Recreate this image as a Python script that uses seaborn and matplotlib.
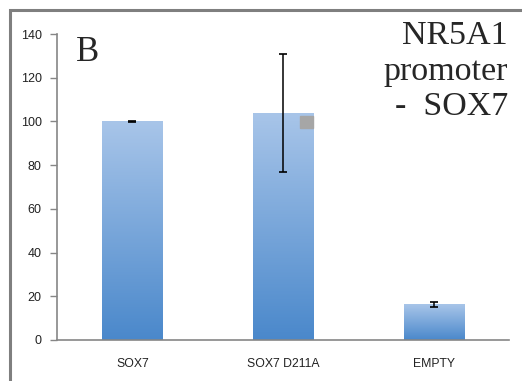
import numpy as np
import pandas as pd
import matplotlib.pyplot as plt
import seaborn as sns
from matplotlib.patches import Rectangle
from matplotlib.colors import LinearSegmentedColormap

# data
categories = ['SOX7', 'SOX7 D211A', 'EMPTY']
means = [100, 103.8, 16.3]
errors = [0.3, 27, 1.0]

df = pd.DataFrame({'construct': categories, 'activity': means})

sns.set_style('white')
plt.rcParams['font.family'] = ['Liberation Sans', 'DejaVu Sans']

fig = plt.figure(figsize=(5.22, 3.81), dpi=100)
ax = fig.add_axes([57/522, 41/381, (509-57)/522, (347-41)/381])

sns.barplot(data=df, x='construct', y='activity', errorbar=None,
            width=0.4, color='#7FA9DC', ax=ax)

# gradient fill, light at the top, darker at the bottom
cmap = LinearSegmentedColormap.from_list('bar', ['#4A88CB', '#A8C5E9'])
grad = np.linspace(0, 1, 256).reshape(-1, 1)
for p in ax.patches:
    x0, y0 = p.get_x(), p.get_y()
    w, h = p.get_width(), p.get_height()
    im = ax.imshow(grad, cmap=cmap, origin='lower', aspect='auto',
                   extent=[x0, x0 + w, y0, y0 + h], zorder=p.get_zorder())
    im.set_clip_path(p)
    p.set_facecolor('none')
    p.set_edgecolor('none')

# little grey square near the top right of the second bar
p2 = ax.patches[1]
ax.add_patch(Rectangle((p2.get_x() + p2.get_width() * 0.79, p2.get_height() - 6.8),
                       p2.get_width() * 0.21, 5.4, color='#A6A6A6', zorder=3))

ax.errorbar(x=range(len(categories)), y=means, yerr=errors, fmt='none',
            ecolor='black', elinewidth=1.1, capsize=3.2, capthick=1.2, zorder=4)

ax.set_xlim(-0.5, 2.5)
ax.set_ylim(0, 140)
ax.set_yticks(range(0, 141, 20))
ax.set_xticks([-0.5, 0.5, 1.5, 2.5], minor=False)
ax.set_xticklabels([])
ax.set_xticks([0, 1, 2], minor=True)
ax.set_xticklabels(categories, minor=True)
ax.tick_params(axis='x', which='major', length=5, width=1, color='#868686', direction='out')
ax.tick_params(axis='x', which='minor', length=0, pad=13, labelsize=8.8, labelcolor='#222222')
ax.tick_params(axis='y', length=5, width=1, color='#868686', direction='out', pad=6,
               labelsize=9, labelcolor='#222222', left=True)
ax.set_xlabel('')
ax.set_ylabel('')
for s in ['top', 'right']:
    ax.spines[s].set_visible(False)
for s in ['left', 'bottom']:
    ax.spines[s].set_color('#868686')
    ax.spines[s].set_linewidth(1.2)

fig.text(76/522, 1 - 36/381, 'B', fontsize=25,
         family='Liberation Serif', va='top', ha='left')
fig.text(508/522, 1 - 21/381, 'NR5A1\npromoter\n-  SOX7', fontsize=24.5,
         family='Liberation Serif', va='top', ha='right', linespacing=1.2)

# outer frame of the original figure
fig.patches.append(Rectangle((10/522, -0.1), 1.2, 1 - 10/381 + 0.1,
                             transform=fig.transFigure, fill=False,
                             edgecolor='#7F7F7F', linewidth=2.2))

fig.savefig('out.png', dpi=100)
